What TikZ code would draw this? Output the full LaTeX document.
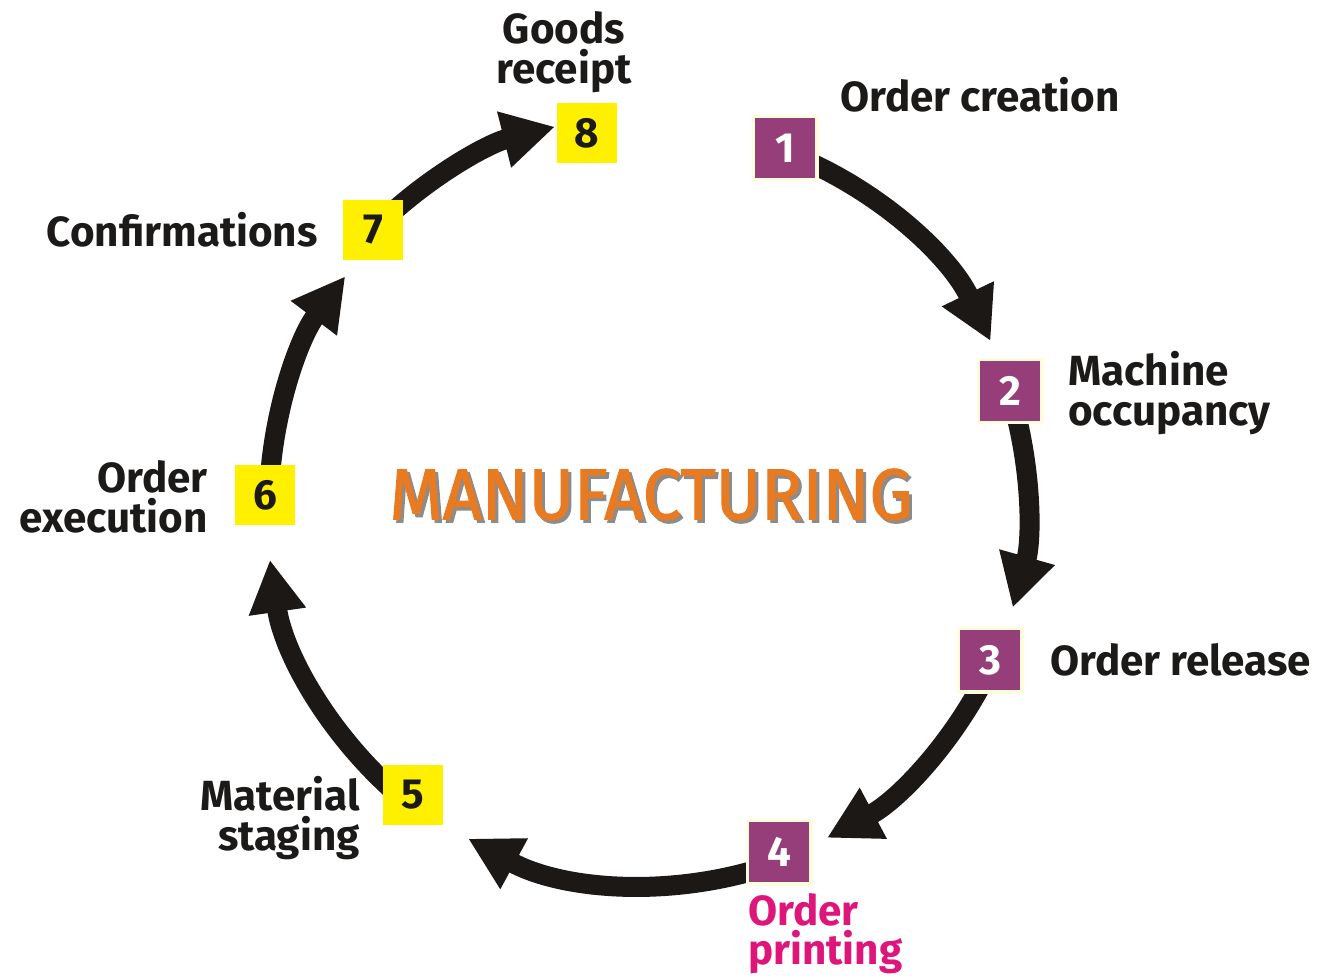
\documentclass[tikz,border=0pt]{standalone}
\usepackage{fontspec}
\setmainfont{Fira Sans}
\newfontfamily\titlefont[FakeBold=1.6]{Fira Sans}
\usetikzlibrary{arrows.meta,calc}
\definecolor{boxpurple}{RGB}{150,62,122}
\definecolor{boxyellow}{RGB}{255,240,0}
\definecolor{titleorange}{RGB}{232,122,34}
\definecolor{textdark}{RGB}{28,26,24}
\definecolor{printmagenta}{RGB}{222,22,122}
\definecolor{arrowblack}{RGB}{28,24,22}
\newcommand{\mfgword}{MANUFACTURING}
\begin{document}
\begin{tikzpicture}[x=0.02cm,y=-0.02cm,
  numbox/.style={minimum size=1.2cm,inner sep=0pt,font=\fontsize{24}{24}\selectfont\bfseries},
  pbox/.style={numbox,fill=boxpurple,text=white},
  ybox/.style={numbox,fill=boxyellow,text=textdark},
  glow/.style={minimum size=1.34cm,inner sep=0pt,fill=yellow!14,draw=none},
  lbl/.style={inner sep=0pt,text=textdark,font=\fontsize{24}{22.5}\selectfont\bfseries},
  flow/.style={draw=arrowblack,line width=0.4cm,-{Triangle[width=1.08cm,length=1.05cm]}}]
\useasboundingbox (0,0) rectangle (1335,980);
\coordinate (C) at (650,505);
% arrows
\draw[flow] ($(C)+(-69:378)$) coordinate (s12) arc[start angle=-69,end angle=-25.7,radius=378] coordinate (t12);
\draw[flow] ($(C)+(-17:377)$) coordinate (s23) arc[start angle=-17,end angle=15.8,radius=377] coordinate (t23);
\draw[flow] ($(C)+(25:377)$) coordinate (s34) arc[start angle=25,end angle=62,radius=377] coordinate (t34);
\draw[flow] ($(C)+(70:380)$) coordinate (s45) arc[start angle=70,end angle=118.6,radius=380] coordinate (t45);
\draw[flow] ($(C)+(129:384)$) coordinate (s56) arc[start angle=129,end angle=171.8,radius=384] coordinate (t56);
\draw[flow] ($(C)+(182:381)$) coordinate (s67) arc[start angle=182,end angle=216.9,radius=381] coordinate (t67);
\draw[flow] ($(C)+(225:390)$) coordinate (s78) arc[start angle=225,end angle=255.9,radius=390] coordinate (t78);
% glows
\node[glow] (g1) at (785,148) {};
\node[glow] (g2) at (1010,391) {};
\node[glow] (g3) at (990,660) {};
\node[glow] (g4) at (779,852) {};
% boxes
\node[pbox] (b1) at (785,148) {1};
\node[pbox] (b2) at (1010,391) {2};
\node[pbox] (b3) at (990,660) {3};
\node[pbox] (b4) at (779,852) {4};
\node[ybox] (b5) at (413,795) {5};
\node[ybox] (b6) at (265,495) {6};
\node[ybox] (b7) at (373,230) {7};
\node[ybox] (b8) at (587,133) {8};
% labels
\node[lbl,align=center] (l8) at (564,52) {Goods\\receipt};
\node[lbl,anchor=west] (l1) at (840,95) {Order creation};
\node[lbl,align=left,anchor=west] (l2) at (1068,393) {Machine\\occupancy};
\node[lbl,anchor=west] (l3) at (1050,660) {Order release};
\node[lbl,align=left,anchor=north west,text=printmagenta] (l4) at (748,893) {Order\\printing};
\node[lbl,align=right,anchor=east] (l5) at (360,818) {Material\\staging};
\node[lbl,align=right,anchor=east] (l6) at (208,497) {Order\\execution};
\node[lbl,anchor=east] (l7) at (318,230) {Confirmations};
% title with shadow
\node[inner sep=0pt] (title) at (651,496) {\scalebox{0.95}[1]{\fontsize{41}{41}\titlefont
  \makebox[0pt][l]{\hspace{1.8pt}\raisebox{-1.8pt}{\color{black!45}\mfgword}}\color{titleorange}\mfgword}};
\end{tikzpicture}
\end{document}
